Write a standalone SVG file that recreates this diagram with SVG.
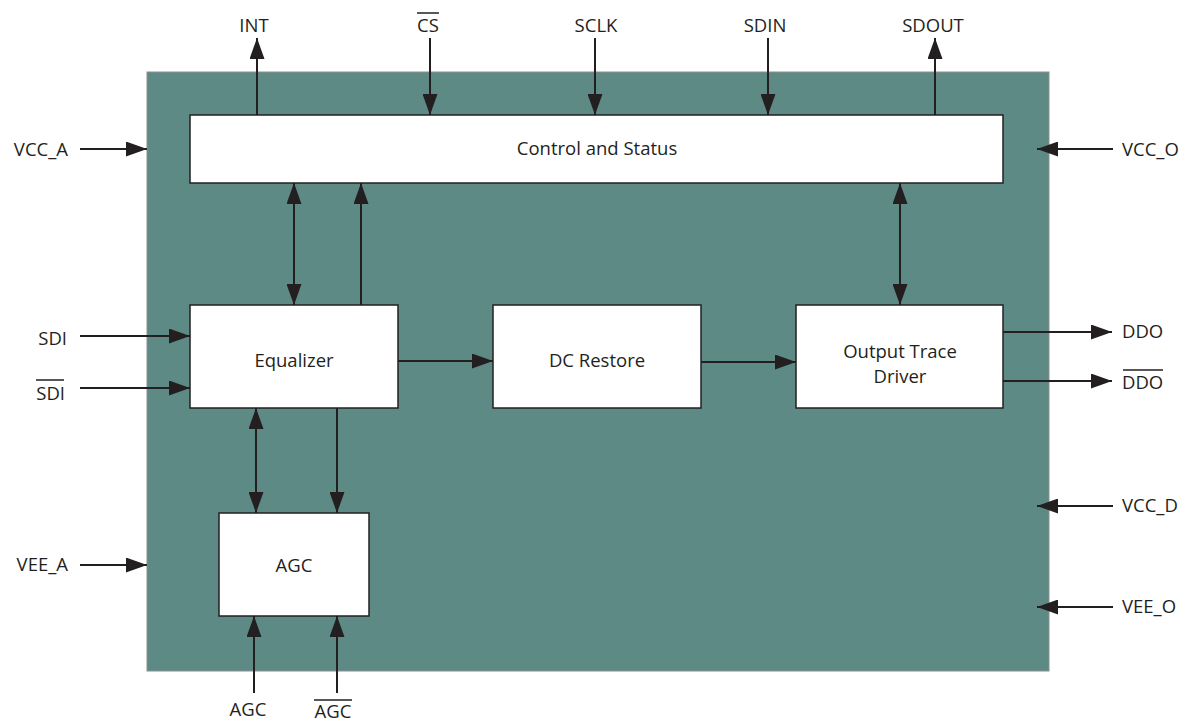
<svg xmlns="http://www.w3.org/2000/svg" width="1186" height="723" viewBox="0 0 1186 723">
<style>
.box{fill:#ffffff;stroke:#231f20;stroke-width:1.5}
.lbl{font-family:"Open Sans","Liberation Sans",sans-serif;font-size:18.5px;fill:#231f20}
.c{stroke:#231f20;stroke-width:2;fill:none}
.ov{stroke:#231f20;stroke-width:1.5}
</style>
<defs>
<marker id="ah" viewBox="0 0 21 15" refX="21" refY="7.5" markerWidth="21" markerHeight="15" markerUnits="userSpaceOnUse" orient="auto-start-reverse">
<path d="M0,0 L21,7.5 L0,15 z" fill="#231f20"/>
</marker>
</defs>
<rect width="1186" height="723" fill="#ffffff"/>
<g id="chip">
<rect x="147" y="72" width="902" height="599" fill="#5e8a86" stroke="#8a8f8e" stroke-width="1"/>
</g>
<g id="control">
<rect class="box" x="190" y="115" width="813" height="68"/>
<text class="lbl" x="597" y="155" text-anchor="middle">Control and Status</text>
</g>
<g id="equalizer">
<rect class="box" x="190" y="305" width="208" height="103"/>
<text class="lbl" x="294" y="367" text-anchor="middle">Equalizer</text>
</g>
<g id="dcrestore">
<rect class="box" x="493" y="305" width="208" height="103"/>
<text class="lbl" x="597" y="367" text-anchor="middle">DC Restore</text>
</g>
<g id="otd">
<rect class="box" x="796" y="305" width="207" height="103"/>
<text class="lbl" x="900" y="358" text-anchor="middle">Output Trace</text>
<text class="lbl" x="900" y="383" text-anchor="middle">Driver</text>
</g>
<g id="agc">
<rect class="box" x="219" y="513" width="150" height="103"/>
<text class="lbl" x="294" y="572" text-anchor="middle">AGC</text>
</g>
<g id="connectors">
<line class="c" x1="257" y1="115" x2="257" y2="38" marker-end="url(#ah)"/>
<line class="c" x1="430" y1="38" x2="430" y2="115" marker-end="url(#ah)"/>
<line class="c" x1="595" y1="38" x2="595" y2="115" marker-end="url(#ah)"/>
<line class="c" x1="768" y1="38" x2="768" y2="115" marker-end="url(#ah)"/>
<line class="c" x1="935" y1="115" x2="935" y2="38" marker-end="url(#ah)"/>
<line class="c" x1="80" y1="149" x2="147" y2="149" marker-end="url(#ah)"/>
<line class="c" x1="1113" y1="149" x2="1037" y2="149" marker-end="url(#ah)"/>
<line class="c" x1="294" y1="183" x2="294" y2="305" marker-start="url(#ah)" marker-end="url(#ah)"/>
<line class="c" x1="361" y1="305" x2="361" y2="183" marker-end="url(#ah)"/>
<line class="c" x1="900" y1="183" x2="900" y2="305" marker-start="url(#ah)" marker-end="url(#ah)"/>
<line class="c" x1="80" y1="336" x2="190" y2="336" marker-end="url(#ah)"/>
<line class="c" x1="80" y1="388" x2="190" y2="388" marker-end="url(#ah)"/>
<line class="c" x1="398" y1="361" x2="493" y2="361" marker-end="url(#ah)"/>
<line class="c" x1="701" y1="362" x2="796" y2="362" marker-end="url(#ah)"/>
<line class="c" x1="1003" y1="332" x2="1112" y2="332" marker-end="url(#ah)"/>
<line class="c" x1="1003" y1="381" x2="1112" y2="381" marker-end="url(#ah)"/>
<line class="c" x1="256" y1="408" x2="256" y2="513" marker-start="url(#ah)" marker-end="url(#ah)"/>
<line class="c" x1="337" y1="408" x2="337" y2="513" marker-end="url(#ah)"/>
<line class="c" x1="254" y1="693" x2="254" y2="616" marker-end="url(#ah)"/>
<line class="c" x1="337" y1="693" x2="337" y2="616" marker-end="url(#ah)"/>
<line class="c" x1="80" y1="565" x2="147" y2="565" marker-end="url(#ah)"/>
<line class="c" x1="1113" y1="506" x2="1037" y2="506" marker-end="url(#ah)"/>
<line class="c" x1="1113" y1="607" x2="1037" y2="607" marker-end="url(#ah)"/>
</g>
<g id="pins">
<text class="lbl" x="254" y="32" text-anchor="middle">INT</text>
<text class="lbl" x="428" y="32" text-anchor="middle">CS</text>
<line class="ov" x1="417" y1="13" x2="439" y2="13"/>
<text class="lbl" x="596" y="32" text-anchor="middle">SCLK</text>
<text class="lbl" x="765" y="32" text-anchor="middle">SDIN</text>
<text class="lbl" x="933" y="32" text-anchor="middle">SDOUT</text>
<text class="lbl" x="68" y="156" text-anchor="end">VCC_A</text>
<text class="lbl" x="1122" y="156">VCC_O</text>
<text class="lbl" x="67" y="345" text-anchor="end">SDI</text>
<text class="lbl" x="65" y="400" text-anchor="end">SDI</text>
<line class="ov" x1="36" y1="380" x2="64" y2="380"/>
<text class="lbl" x="1122" y="338">DDO</text>
<text class="lbl" x="1122" y="389">DDO</text>
<line class="ov" x1="1123" y1="370" x2="1163" y2="370"/>
<text class="lbl" x="68" y="571" text-anchor="end">VEE_A</text>
<text class="lbl" x="1122" y="512">VCC_D</text>
<text class="lbl" x="1122" y="613">VEE_O</text>
<text class="lbl" x="248" y="716" text-anchor="middle">AGC</text>
<text class="lbl" x="333" y="718" text-anchor="middle">AGC</text>
<line class="ov" x1="314" y1="700" x2="352" y2="700"/>
</g>
</svg>
